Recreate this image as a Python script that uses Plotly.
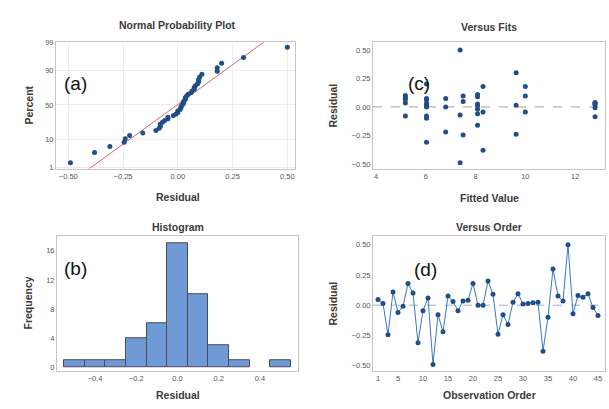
import numpy as np
import plotly.graph_objects as go
from statistics import NormalDist

# ---------------- data ----------------
observation = list(range(1, 46))
residuals = [0.047, 0.014, -0.245, 0.11, -0.06, -0.008, 0.18, 0.10, -0.31, -0.045,
             0.06, -0.49, -0.08, -0.22, 0.075, 0.03, -0.045, 0.035, 0.04, 0.18,
             0.0, 0.0, 0.20, 0.09, -0.24, -0.08, -0.16, 0.025, 0.095, 0.01,
             0.015, 0.02, 0.025, -0.38, -0.10, 0.30, 0.075, 0.035, 0.50, -0.07,
             0.08, 0.065, 0.095, -0.02, -0.085]
fitted = [7.5, 6.03, 7.5, 8.08, 8.08, 12.8, 8.3, 5.18, 6.03, 8.3,
          6.03, 7.38, 5.18, 6.8, 6.03, 6.03, 10.0, 5.18, 12.8, 10.0,
          6.8, 6.03, 6.03, 8.08, 9.63, 6.03, 8.08, 12.8, 10.0, 8.08,
          9.63, 12.8, 8.08, 8.3, 6.03, 9.63, 6.8, 12.8, 7.38, 7.38,
          5.18, 5.18, 7.5, 8.08, 12.8]
percent_ticks = [1, 10, 50, 90, 99]
resid_ticks_a = [-0.50, -0.25, 0.00, 0.25, 0.50]
resid_ticks_b = [-0.4, -0.2, 0.0, 0.2, 0.4]
freq_ticks = [0, 4, 8, 12, 16]
fit_ticks = [4, 6, 8, 10, 12]
order_ticks = [1, 5, 10, 15, 20, 25, 30, 35, 40, 45]

# ---------------- derived (probability plot) ----------------
nd = NormalDist()
r = np.array(residuals)
n = len(r)
r_sorted = np.sort(r)
z_pos = [nd.inv_cdf((i - 0.3) / (n + 0.4)) for i in range(1, n + 1)]
mu, sd = r.mean(), r.std(ddof=1)
z_line = [-2.6, 2.6]
x_line = [mu + sd * z for z in z_line]
z_ticks = [nd.inv_cdf(p / 100) for p in percent_ticks]

W, H = 609, 409
def px(x): return x / W
def py(y): return 1 - y / H

MK = "#1f4e8a"
TICKF = dict(family="Liberation Sans, Arial", size=7.5, color="#555555")
FRAME = "#c8c4c4"

fig = go.Figure()

# (a) normal probability plot
fig.add_trace(go.Scatter(x=x_line, y=z_line, mode="lines",
                         line=dict(color="#d06a6a", width=1), xaxis="x", yaxis="y",
                         showlegend=False, hoverinfo="skip"))
fig.add_trace(go.Scatter(x=r_sorted, y=z_pos, mode="markers",
                         marker=dict(color=MK, size=5), xaxis="x", yaxis="y",
                         showlegend=False))

# (c) versus fits
fig.add_trace(go.Scatter(x=fitted, y=residuals, mode="markers",
                         marker=dict(color=MK, size=5), xaxis="x2", yaxis="y2",
                         showlegend=False))

# (b) histogram
fig.add_trace(go.Histogram(x=residuals, xbins=dict(start=-0.55, end=0.55, size=0.1),
                           marker=dict(color="#6f9ad6", line=dict(color="#4a4a5a", width=1)),
                           xaxis="x3", yaxis="y3", showlegend=False))

# (d) versus order
fig.add_trace(go.Scatter(x=observation, y=residuals, mode="lines+markers",
                         line=dict(color="#3a78c0", width=1),
                         marker=dict(color=MK, size=5), xaxis="x4", yaxis="y4",
                         showlegend=False))

top_dom = [py(168), py(39.5)]
bot_dom = [py(373), py(236.7)]
left_dom = [px(56), px(295)]
left_dom_b = [px(57), px(298)]
right_dom = [px(373), px(605)]

def ax(**kw):
    d = dict(showline=True, mirror=True, linecolor=FRAME, linewidth=1,
             zeroline=False, showgrid=False, tickfont=TICKF, ticks="")
    d.update(kw)
    return d

fig.update_layout(
    width=W, height=H, margin=dict(l=0, r=0, t=0, b=0),
    paper_bgcolor="white", plot_bgcolor="white", bargap=0,
    xaxis=ax(domain=left_dom, anchor="y", range=[-0.556, 0.535], tickvals=resid_ticks_a,
             tickformat=".2f", showgrid=True, gridcolor="#ececec"),
    yaxis=ax(domain=top_dom, anchor="x", range=[-2.38, 2.36], tickvals=z_ticks,
             ticktext=[str(p) for p in percent_ticks], showgrid=True, gridcolor="#ececec"),
    xaxis2=ax(domain=right_dom, anchor="y2", range=[3.88, 13.2], tickvals=fit_ticks),
    yaxis2=ax(domain=top_dom, anchor="x2", range=[-0.54, 0.57],
              tickvals=resid_ticks_a, tickformat=".2f"),
    xaxis3=ax(domain=left_dom_b, anchor="y3", range=[-0.585, 0.585],
              tickvals=resid_ticks_b, tickformat=".1f"),
    yaxis3=ax(domain=bot_dom, anchor="x3", range=[-0.45, 18], tickvals=freq_ticks),
    xaxis4=ax(domain=right_dom, anchor="y4", range=[0, 46.4], tickvals=order_ticks),
    yaxis4=ax(domain=bot_dom, anchor="x4", range=[-0.54, 0.57],
              tickvals=resid_ticks_a, tickformat=".2f"),
    shapes=[
        dict(type="line", xref="x2 domain", yref="y2", x0=0, x1=1, y0=0, y1=0,
             line=dict(color="#b89890", width=1, dash="dash"), layer="below"),
        dict(type="line", xref="x4 domain", yref="y4", x0=0, x1=1, y0=0, y1=0,
             line=dict(color="#9fb2cc", width=1, dash="dash"), layer="below"),
    ],
)

TF = dict(family="Liberation Sans, Arial", size=10.5, color="#3a3a3a")
def ann(text, x, y, angle=0, font=TF, xanchor="center"):
    fig.add_annotation(text=text, x=px(x), y=py(y), xref="paper", yref="paper",
                       showarrow=False, textangle=angle, font=font,
                       xanchor=xanchor, yanchor="middle")

ann("<b>Normal Probability Plot</b>", 178, 22)
ann("<b>Versus Fits</b>", 489, 24)
ann("<b>Histogram</b>", 178, 227)
ann("<b>Versus Order</b>", 489, 227)
ann("<b>Residual</b>", 178, 197)
ann("<b>Fitted Value</b>", 489, 198)
ann("<b>Residual</b>", 178, 398)
ann("<b>Observation Order</b>", 489, 398)
ann("<b>Percent</b>", 29, 104, angle=-90)
ann("<b>Residual</b>", 333, 104, angle=-90)
ann("<b>Frequency</b>", 28, 305, angle=-90)
ann("<b>Residual</b>", 333, 305, angle=-90)

LF = dict(family="Liberation Sans, Arial", size=19, color="#111111")
ann("(a)", 62, 82, font=LF, xanchor="left")
ann("(b)", 62, 269, font=LF, xanchor="left")
ann("(c)", 406, 82, font=LF, xanchor="left")
ann("(d)", 412, 270, font=LF, xanchor="left")

fig.write_html("out.html", config={"displayModeBar": False},
               post_script="document.body.style.margin='0';document.body.style.overflow='hidden';")
